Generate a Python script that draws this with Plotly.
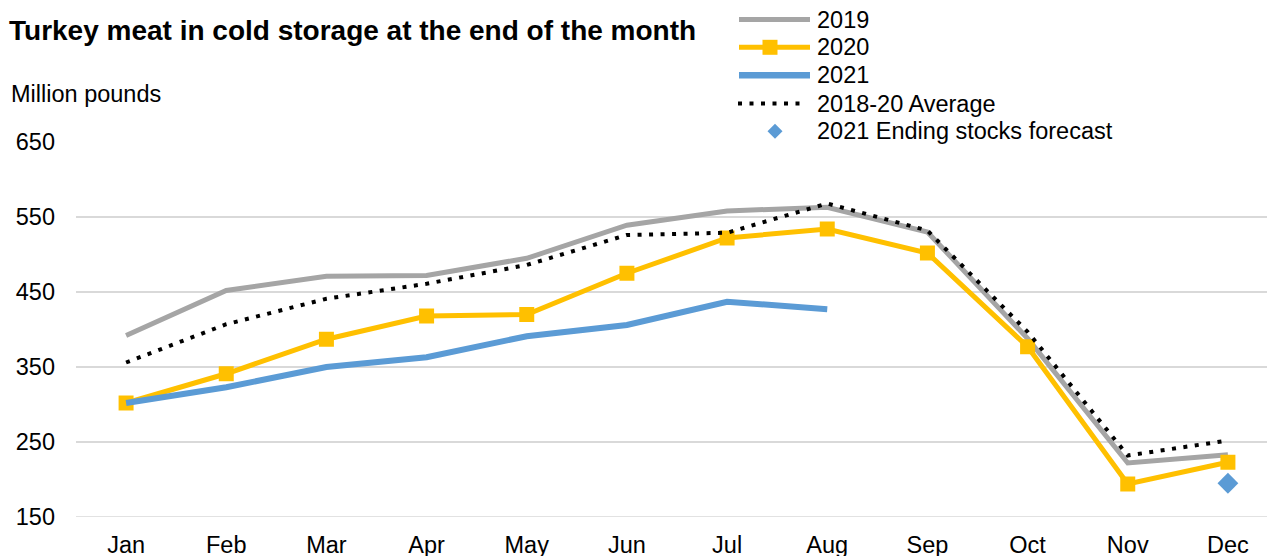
import plotly.graph_objects as go

months = ["Jan", "Feb", "Mar", "Apr", "May", "Jun", "Jul", "Aug", "Sep", "Oct", "Nov", "Dec"]
y2019 = [392, 452, 471, 472, 495, 539, 558, 563, 530, 388, 222, 233]
y2020 = [302, 341, 387, 418, 420, 475, 522, 534, 502, 377, 194, 223]
y2021 = [302, 323, 350, 363, 391, 406, 437, 427]
avg = [356, 407, 441, 461, 486, 526, 529, 568, 532, 397, 232, 252]
fc_month = ["Dec"]
fc_value = [195]
y_ticks = [150, 250, 350, 450, 550, 650]
legend_names = ["2019", "2020", "2021", "2018-20 Average", "2021 Ending stocks forecast"]

FONT = "Liberation Sans, Arial, sans-serif"
GRAY, YELLOW, BLUE, BLACK = "#A5A5A5", "#FFC000", "#5B9BD5", "#000000"
DOT = "4px,7.5px"

# The page body has an 8px margin; size the figure so it fills the window.
OFF = 8
WIN_W, WIN_H = 1275, 556
W, H = WIN_W - OFF, WIN_H - OFF
PLOT_L, PLOT_T, PLOT_B = 76, 142, 517          # window pixel positions
ML, MT, MB, MR = PLOT_L - OFF, PLOT_T - OFF, WIN_H - PLOT_B, 0
PW, PH = W - ML - MR, H - MT - MB


def px(x):
    return (x - PLOT_L) / PW


def py(y):
    return (PLOT_B - y) / PH


fig = go.Figure()
fig.add_trace(go.Scatter(x=months, y=y2019, name=legend_names[0], mode="lines",
                         line=dict(color=GRAY, width=5)))
fig.add_trace(go.Scatter(x=months, y=y2020, name=legend_names[1], mode="lines+markers",
                         line=dict(color=YELLOW, width=5),
                         marker=dict(symbol="square", size=15, color=YELLOW)))
fig.add_trace(go.Scatter(x=months[:len(y2021)], y=y2021, name=legend_names[2], mode="lines",
                         line=dict(color=BLUE, width=6)))
fig.add_trace(go.Scatter(x=months, y=avg, name=legend_names[3], mode="lines",
                         line=dict(color=BLACK, width=4, dash=DOT)))
fig.add_trace(go.Scatter(x=fc_month, y=fc_value, name=legend_names[4], mode="markers",
                         marker=dict(symbol="diamond", size=16, color=BLUE)))

shapes = [
    dict(type="line", xref="paper", yref="y", x0=0, x1=1, y0=150, y1=150,
         line=dict(color="#D9D9D9", width=1.5), layer="below"),
]
annotations = [
    dict(text="<b>Turkey meat in cold storage at the end of the month</b>",
         xref="paper", yref="paper", x=px(7), y=py(31),
         xanchor="left", yanchor="middle", showarrow=False,
         font=dict(size=28)),
    dict(text="Million pounds", xref="paper", yref="paper",
         x=px(9), y=py(94), xanchor="left", yanchor="middle",
         showarrow=False, font=dict(size=23.5)),
]

# manual legend
row_y = [19.5, 47.3, 75.2, 103.5, 131.3]
lx0, lx1, tx = 739, 810, 815
shapes.append(dict(type="line", xref="paper", yref="paper", x0=px(lx0), x1=px(lx1),
                   y0=py(row_y[0]), y1=py(row_y[0]), line=dict(color=GRAY, width=5)))
shapes.append(dict(type="line", xref="paper", yref="paper", x0=px(lx0), x1=px(lx1),
                   y0=py(row_y[1]), y1=py(row_y[1]), line=dict(color=YELLOW, width=5)))
shapes.append(dict(type="rect", xref="paper", yref="paper", x0=px(770 - 7.5), x1=px(770 + 7.5),
                   y0=py(row_y[1] - 7.5), y1=py(row_y[1] + 7.5), line=dict(width=0),
                   fillcolor=YELLOW))
shapes.append(dict(type="line", xref="paper", yref="paper", x0=px(lx0), x1=px(lx1),
                   y0=py(row_y[2]), y1=py(row_y[2]), line=dict(color=BLUE, width=6.5)))
shapes.append(dict(type="line", xref="paper", yref="paper", x0=px(lx0 - 1), x1=px(lx1 - 3),
                   y0=py(row_y[3]), y1=py(row_y[3]), line=dict(color=BLACK, width=4, dash=DOT)))
cx, cy, r = 775, row_y[4], 7.5
shapes.append(dict(type="path", xref="paper", yref="paper",
                   path=(f"M{px(cx - r)},{py(cy)} L{px(cx)},{py(cy - r)} "
                         f"L{px(cx + r)},{py(cy)} L{px(cx)},{py(cy + r)} Z"),
                   line=dict(width=0), fillcolor=BLUE))
for name, ry in zip(legend_names, row_y):
    annotations.append(dict(text=name, xref="paper", yref="paper", x=px(tx), y=py(ry),
                            xanchor="left", yanchor="middle", showarrow=False,
                            font=dict(size=23.5)))

fig.update_layout(
    width=W, height=H,
    margin=dict(l=ML, r=MR, t=MT, b=MB, autoexpand=False),
    paper_bgcolor="white", plot_bgcolor="white",
    font=dict(family=FONT, size=23.5, color=BLACK),
    showlegend=False,
    xaxis=dict(type="category", range=[-0.5, 11.47], showgrid=False,
               showline=False, ticks="", tickfont=dict(size=23.5),
               ticklabelstandoff=11, automargin=False),
    yaxis=dict(range=[150, 650], tickvals=y_ticks, showgrid=True,
               gridcolor="#D9D9D9", gridwidth=1.5, zeroline=False,
               showline=False, ticks="", tickfont=dict(size=23.5),
               ticklabelstandoff=20, automargin=False),
    shapes=shapes,
    annotations=annotations,
)

fig.write_html("out.html")
